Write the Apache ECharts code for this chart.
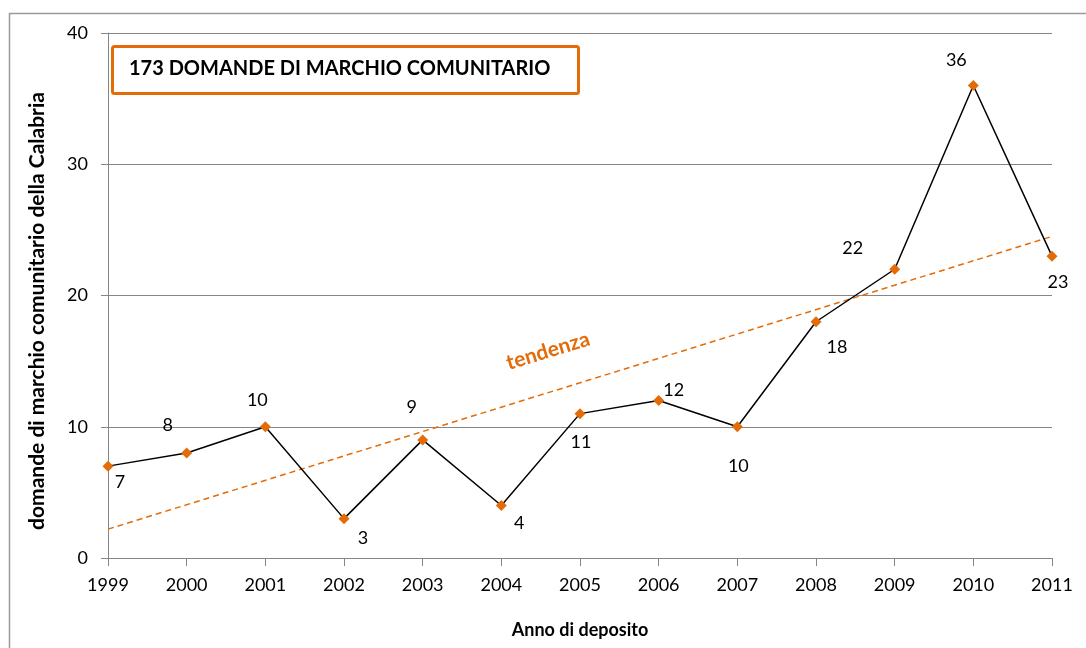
<!DOCTYPE html>
<html>
<head>
<meta charset="utf-8">
<script src="https://cdn.jsdelivr.net/npm/echarts@6/dist/echarts.min.js"></script>
<style>
html,body{margin:0;padding:0;background:#fff;}
#c{width:1086px;height:648px;}
</style>
</head>
<body>
<div id="c"></div>
<script>
// Data
var years = ['1999','2000','2001','2002','2003','2004','2005','2006','2007','2008','2009','2010','2011'];
var applications = [7, 8, 10, 3, 9, 4, 11, 12, 10, 18, 22, 36, 23];
var trendEnds = [2.2, 24.5]; // trend line values at 1999 and 2011
var yTicks = [0, 10, 20, 30, 40];
var boxText = '173 DOMANDE DI MARCHIO COMUNITARIO';
var yTitle = 'domande di marchio comunitario della Calabria';
var xTitle = 'Anno di deposito';
var trendLabel = 'tendenza';

// label offsets (style only) [dx, dy]
var labelOffsets = [[12,16],[-19,-28],[-8,-27],[19,20],[-11,-33],[18,18],[1,29],[15,-10],[1,39],[21,25],[-42,-21],[-17,-25],[6,26]];

var FONT = 'Lato, "Open Sans", sans-serif';
var ORANGE = '#E36C09';

var chart = echarts.init(document.getElementById('c'), null, {renderer:'canvas'});

var lineData = applications.map(function(v,i){
  return {
    value: v,
    label: {
      show: true,
      position: 'inside',
      offset: labelOffsets[i],
      formatter: String(v),
      color: '#000',
      fontFamily: FONT,
      fontSize: 18
    }
  };
});

var trendData = years.map(function(y,i){
  if (i === 0) return trendEnds[0];
  if (i === years.length-1) return trendEnds[1];
  return '-';
});

chart.setOption({
  animation: false,
  backgroundColor: '#fff',
  grid: {left: 108, right: 34, top: 33, bottom: 90, containLabel: false},
  xAxis: {
    type: 'category',
    data: years,
    boundaryGap: false,
    axisLine: {lineStyle: {color: '#868686', width: 1}},
    axisTick: {show: true, length: 8, alignWithLabel: true, lineStyle: {color: '#868686'}},
    axisLabel: {color: '#000', fontFamily: FONT, fontSize: 18, margin: 18},
    splitLine: {show: false},
    name: xTitle,
    nameLocation: 'middle',
    nameGap: 63,
    nameTextStyle: {color: '#000', fontFamily: FONT, fontSize: 18, fontWeight: 'bold'}
  },
  yAxis: {
    type: 'value',
    min: yTicks[0],
    max: yTicks[yTicks.length-1],
    interval: yTicks[1]-yTicks[0],
    axisLine: {show: true, lineStyle: {color: '#868686', width: 1}},
    axisTick: {show: true, length: 7, lineStyle: {color: '#868686'}},
    axisLabel: {color: '#000', fontFamily: FONT, fontSize: 18, margin: 20},
    splitLine: {show: true, lineStyle: {color: '#868686', width: 1}}
  },
  series: [
    {
      type: 'line',
      data: trendData,
      connectNulls: true,
      symbol: 'none',
      lineStyle: {color: ORANGE, width: 1.5, type: [6, 4]},
      z: 2,
      silent: true
    },
    {
      type: 'line',
      data: lineData,
      symbol: 'diamond',
      symbolSize: 11,
      itemStyle: {color: ORANGE},
      lineStyle: {color: '#000', width: 1.5},
      z: 3
    }
  ],
  graphic: [
    {
      type: 'rect',
      left: 7, top: 11,
      shape: {width: 1200, height: 700},
      style: {fill: null, stroke: '#9a9a9a', lineWidth: 1.5},
      silent: true, z: -10
    },
    {
      type: 'rect',
      left: 111, top: 45,
      shape: {width: 466, height: 47, r: 2},
      style: {fill: '#fff', stroke: ORANGE, lineWidth: 3},
      z: 100
    },
    {
      type: 'text',
      x: 129, y: 69,
      style: {text: boxText, fill: '#000', font: 'bold 20px ' + FONT, verticalAlign: 'middle'},
      z: 101
    },
    {
      type: 'text',
      x: 37, y: 311,
      rotation: Math.PI / 2,
      style: {text: yTitle, fill: '#000', font: 'bold 21px ' + FONT, align: 'center', verticalAlign: 'middle'},
      z: 101
    },
    {
      type: 'text',
      x: 548, y: 351,
      rotation: 17 * Math.PI / 180,
      style: {text: trendLabel, fill: ORANGE, font: 'bold 21px ' + FONT, align: 'center', verticalAlign: 'middle'},
      z: 101
    }
  ]
});
</script>
</body>
</html>
